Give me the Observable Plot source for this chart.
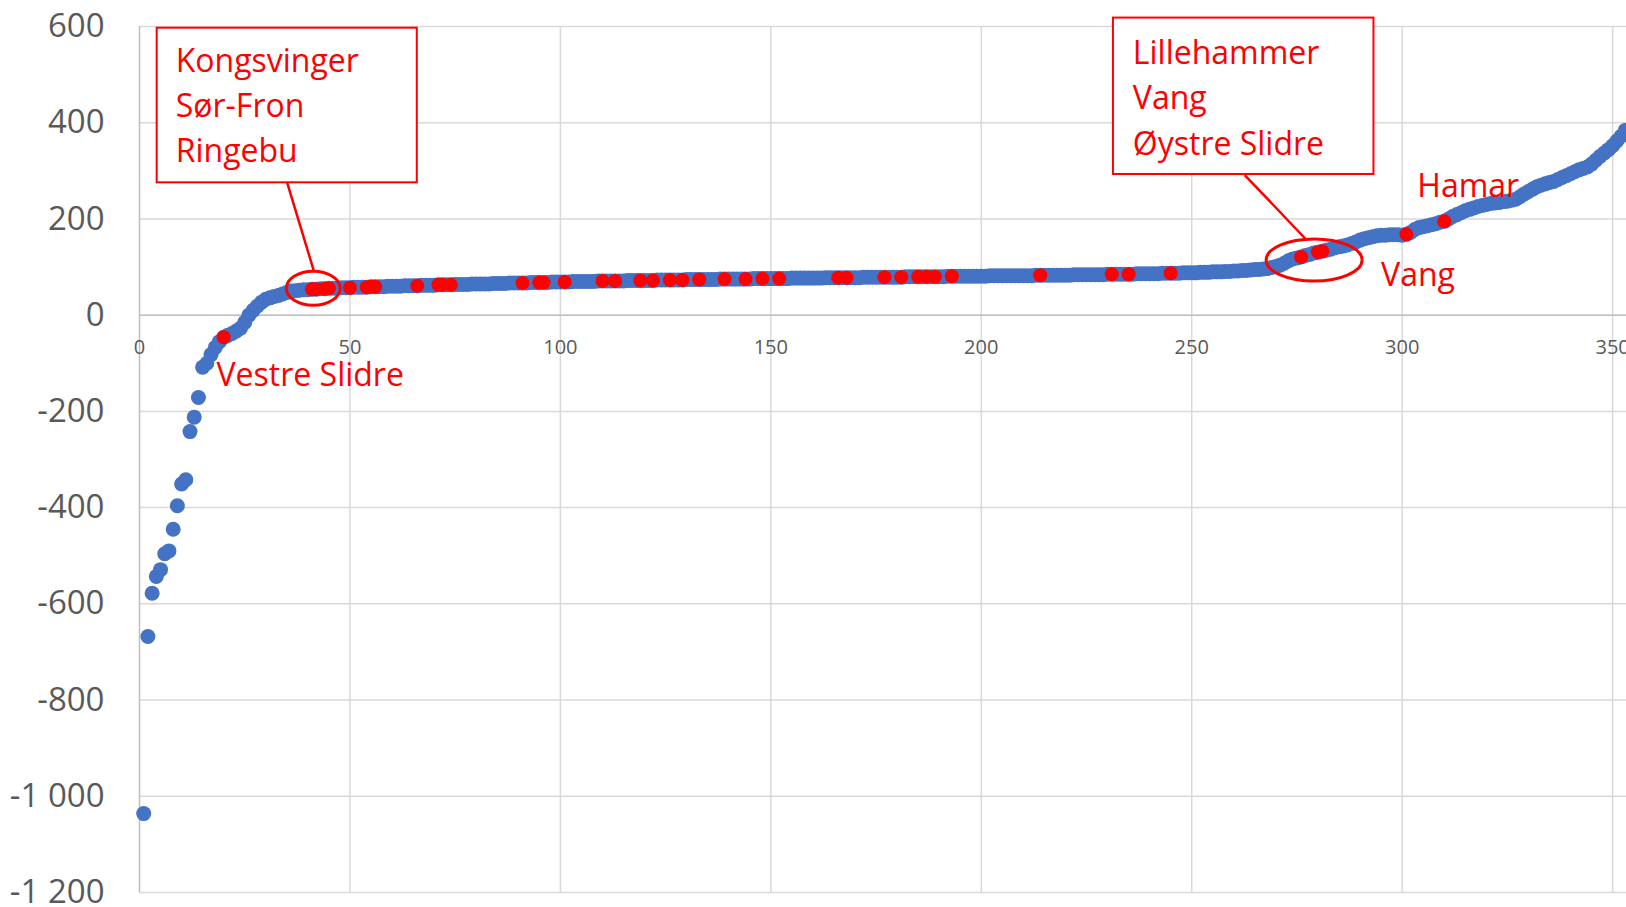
<!DOCTYPE html>
<html><head><meta charset="utf-8">
<script src="https://cdn.jsdelivr.net/npm/d3@7"></script>
<script src="https://cdn.jsdelivr.net/npm/@observablehq/plot@0.6"></script>
<style>html,body{margin:0;padding:0;background:#fff;overflow:hidden} svg{display:block}</style>
</head><body><div id="chart"></div>
<script>
// Sorted values, rank 1..353 (x = rank)
const values = [
-1036,-668,-578,-543,-529,-496,-490,-445,-396,-351,
-342,-242,-212,-171,-108,-100,-82,-67,-55,-46,
-42,-38,-33,-27,-15,0,10,19,27,33,
36,39,41,44,47,50,51,52,53,53,
54,54,55,55,56,56,56,57,57,57,
58,58,58,58,59,59,59,59,60,60,
60,60,61,61,61,61,62,62,62,62,
63,63,63,63,64,64,64,64,65,65,
65,65,65,66,66,66,66,67,67,67,
67,67,68,68,68,68,68,69,69,69,
69,69,70,70,70,70,70,70,71,71,
71,71,71,71,71,72,72,72,72,72,
72,72,73,73,73,73,73,73,73,74,
74,74,74,74,74,74,74,75,75,75,
75,75,75,75,75,76,76,76,76,76,
76,76,76,76,77,77,77,77,77,77,
77,77,78,78,78,78,78,78,78,78,
78,79,79,79,79,79,79,79,79,79,
79,80,80,80,80,80,80,80,80,80,
80,81,81,81,81,81,81,81,81,81,
81,82,82,82,82,82,82,82,82,82,
82,82,83,83,83,83,83,83,83,83,
83,84,84,84,84,84,84,84,84,85,
85,85,85,85,85,85,86,86,86,86,
86,86,87,87,87,87,87,88,88,88,
88,89,89,89,90,90,90,91,91,92,
92,93,93,94,95,95,96,97,99,101,
104,108,113,117,119,121,124,126,129,131,
133,135,137,140,142,144,146,149,152,156,
159,161,163,165,166,166,167,167,167,166,
168,172,178,182,184,186,188,190,193,195,
200,205,209,213,217,220,223,226,228,230,
232,233,234,236,237,239,241,246,252,257,
262,267,270,273,276,278,282,286,290,294,
298,302,305,308,314,322,330,337,344,352,
362,372,384
];
// Ranks of the highlighted (red) municipalities
const redRanks = [20,41,42,44,45,50,54,55,56,66,71,72,74,91,95,96,101,110,113,119,122,126,129,133,139,144,148,152,166,168,177,181,185,187,189,193,214,231,235,245,276,280,281,301,310];

const xTicks = [0,50,100,150,200,250,300,350];
const yTicks = [-1200,-1000,-800,-600,-400,-200,0,200,400,600];

// Annotation content (data coordinates)
const boxTexts = ["Kongsvinger","Sør-Fron","Ringebu","Lillehammer","Vang","Øystre Slidre"];
const boxTextX = [8.6,8.6,8.6,236.0,236.0,236.0];
const boxTextY = [505,411.5,318,521.4,427.5,333.1];
const labelTexts = ["Vestre Slidre","Hamar","Vang"];
const labelX = [18.3,303.6,295.0];
const labelY = [-146.2,246,61.3];
const boxX1 = [4.2,231.4], boxX2 = [66.0,293.3], boxY1 = [275.1,292.4], boxY2 = [596.5,617.5];
const linkX1 = [35.1,262.6], linkY1 = [275.1,291.3], linkX2 = [41.4,277.4], linkY2 = [92.7,155.2];
const ellX = [41.4,279.2], ellY = [54.8,113.6], ellRx = [6.4,11.4], ellRy = [35.3,43.6];

const blue = values.map((v,i)=>({rank:i+1, v}));
const red = redRanks.map(r=>({rank:r, v:values[r-1]}));
const texts = boxTexts.map((t,i)=>({t, x:boxTextX[i], y:boxTextY[i]}))
  .concat(labelTexts.map((t,i)=>({t, x:labelX[i], y:labelY[i]})));
const boxes = boxX1.map((_,i)=>({x1:boxX1[i],x2:boxX2[i],y1:boxY1[i],y2:boxY2[i]}));
const links = linkX1.map((_,i)=>({x1:linkX1[i],y1:linkY1[i],x2:linkX2[i],y2:linkY2[i]}));
const ells = ellX.map((_,i)=>({x:ellX[i],y:ellY[i],rx:ellRx[i],ry:ellRy[i]}));

const nf = d3.formatLocale({decimal:",", thousands:" ", grouping:[3], currency:["","kr"], minus:"-"}).format(",");
const FONT = "'Open Sans', sans-serif";
const RED = "#ff0000";

const ellipseMark = (index, scales) => {
  const g = d3.create("svg:g");
  for (const e of ells) {
    const cx = scales.x(e.x), cy = scales.y(e.y);
    g.append("ellipse").attr("cx",cx).attr("cy",cy)
      .attr("rx",Math.abs(scales.x(e.x+e.rx)-cx)).attr("ry",Math.abs(scales.y(e.y+e.ry)-cy))
      .attr("fill","none").attr("stroke",RED).attr("stroke-width",3);
  }
  return g.node();
};

const chart = Plot.plot({
  width:1626, height:907,
  marginLeft:139, marginRight:0, marginTop:26, marginBottom:15,
  style:{fontFamily:FONT, background:"#fff"},
  x:{domain:[0,353.3], axis:null},
  y:{domain:[-1200,600], axis:null},
  marks:[
    Plot.ruleX(xTicks.slice(1), {stroke:"#d9d9d9", strokeWidth:1.5}),
    Plot.ruleY(yTicks, {stroke:"#d9d9d9", strokeWidth:1.5}),
    Plot.ruleX([0], {stroke:"#bfbfbf", strokeWidth:1.5}),
    Plot.ruleY([0], {stroke:"#bfbfbf", strokeWidth:1.5}),
    Plot.text(yTicks, {y:d=>d, text:d=>nf(d), frameAnchor:"left", textAnchor:"end", dx:-35, fontSize:33, fill:"#595959", fontFamily:FONT}),
    Plot.text(xTicks, {x:d=>d, y:d=>0, text:d=>String(d), dy:32, fontSize:20, fill:"#595959", fontFamily:FONT}),
    Plot.dot(blue, {x:"rank", y:"v", r:7.5, fill:"#4472c4"}),
    Plot.dot(red, {x:"rank", y:"v", r:7, fill:RED}),
    Plot.rect(boxes, {x1:"x1", x2:"x2", y1:"y1", y2:"y2", fill:"#fff", stroke:RED, strokeWidth:2}),
    Plot.link(links, {x1:"x1", y1:"y1", x2:"x2", y2:"y2", stroke:RED, strokeWidth:2.5}),
    ellipseMark,
    Plot.text(texts, {x:"x", y:"y", text:"t", textAnchor:"start", lineAnchor:"bottom", fontSize:32, fill:RED, fontFamily:FONT})
  ]
});
document.getElementById("chart").appendChild(chart);
</script>
</body></html>
